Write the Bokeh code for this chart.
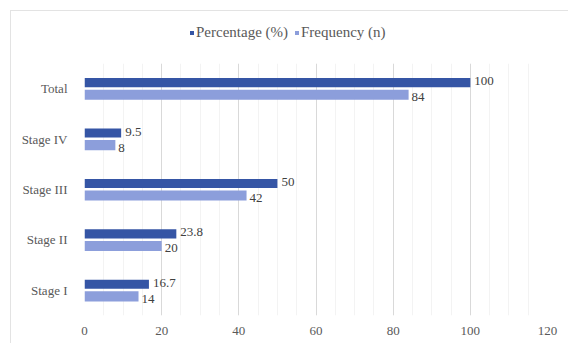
from bokeh.plotting import figure
from bokeh.layouts import column
from bokeh.models import ColumnDataSource, FactorRange, Legend, LegendItem, Range1d, FixedTicker
from bokeh.transform import dodge
from bokeh.embed import file_html
from bokeh.resources import INLINE
from bokeh.core.properties import value

categories = ["Stage I", "Stage II", "Stage III", "Stage IV", "Total"]
percentage = [16.7, 23.8, 50, 9.5, 100]
frequency = [14, 20, 42, 8, 84]
pct_labels = ["16.7", "23.8", "50", "9.5", "100"]
freq_labels = ["14", "20", "42", "8", "84"]
series_names = ["Percentage (%)", "Frequency (n)"]
x_ticks = [0, 20, 40, 60, 80, 100, 120]

src = ColumnDataSource(dict(cat=categories, pct=percentage, freq=frequency,
                            pl=pct_labels, fl=freq_labels))

FONT = "Liberation Serif"
DARK = "#3555a5"
LIGHT = "#8c9edb"
NAN = float("nan")

# ---- main chart ----
p = figure(width=558, height=289, y_range=FactorRange(factors=categories),
           x_range=Range1d(0, 120), output_backend="svg", toolbar_location=None,
           min_border_left=73, min_border_right=22, min_border_top=8, min_border_bottom=29)
p.outline_line_color = None
p.background_fill_color = "white"

r1 = p.hbar(y=dodge("cat", 0.12, range=p.y_range), right="pct", left=0, height=0.18,
            source=src, fill_color=DARK, line_color=None)
r2 = p.hbar(y=dodge("cat", -0.12, range=p.y_range), right="freq", left=0, height=0.2,
            source=src, fill_color=LIGHT, line_color=None)

p.text(x="pct", y=dodge("cat", 0.15, range=p.y_range), text="pl", source=src,
       x_offset=4, text_font=value(FONT), text_font_size="13px", text_color="#404040",
       text_baseline="middle", text_align="left")
p.text(x="freq", y=dodge("cat", -0.17, range=p.y_range), text="fl", source=src,
       x_offset=3, text_font=value(FONT), text_font_size="13px", text_color="#404040",
       text_baseline="middle", text_align="left")

p.xaxis.ticker = FixedTicker(ticks=x_ticks, minor_ticks=list(range(0, 121, 5)))
p.xgrid.grid_line_color = "#d9d9d9"
p.xgrid.minor_grid_line_color = "#f3f3f3"
p.ygrid.grid_line_color = None
for ax in (p.xaxis[0], p.yaxis[0]):
    ax.axis_line_color = None
    ax.major_tick_line_color = None
    ax.minor_tick_line_color = None
    ax.major_label_text_font = FONT
    ax.major_label_text_font_size = "13px"
    ax.major_label_text_color = "#595959"
p.xaxis.major_label_standoff = 5
p.yaxis.major_label_standoff = 11

# ---- legend strip ----
lg = figure(width=558, height=44, x_range=Range1d(0, 1), y_range=Range1d(0, 1),
            x_axis_type=None, y_axis_type=None, output_backend="svg", toolbar_location=None,
            min_border=0)
lg.outline_line_color = None
lg.grid.visible = False
d1 = lg.rect(x=[NAN], y=[NAN], width=1, height=1, fill_color=DARK, line_color=None)
d2 = lg.rect(x=[NAN], y=[NAN], width=1, height=1, fill_color=LIGHT, line_color=None)
legend = Legend(items=[LegendItem(label=series_names[0], renderers=[d1]),
                       LegendItem(label=series_names[1], renderers=[d2])],
                orientation="horizontal", location=(105, 14),
                label_text_font=FONT, label_text_font_size="15px", label_text_color="#595959",
                glyph_width=5, glyph_height=5, spacing=6, label_standoff=2,
                label_height=15,
                border_line_color=None, background_fill_alpha=0, padding=0, margin=0)
lg.add_layout(legend, "center")

layout = column(lg, p, spacing=0, margin=(10, 0, 0, 10),
                styles={"border-left": "1px solid #e3e3e3", "border-top": "1px solid #e3e3e3"})

open("out.html", "w").write(file_html(layout, INLINE))
